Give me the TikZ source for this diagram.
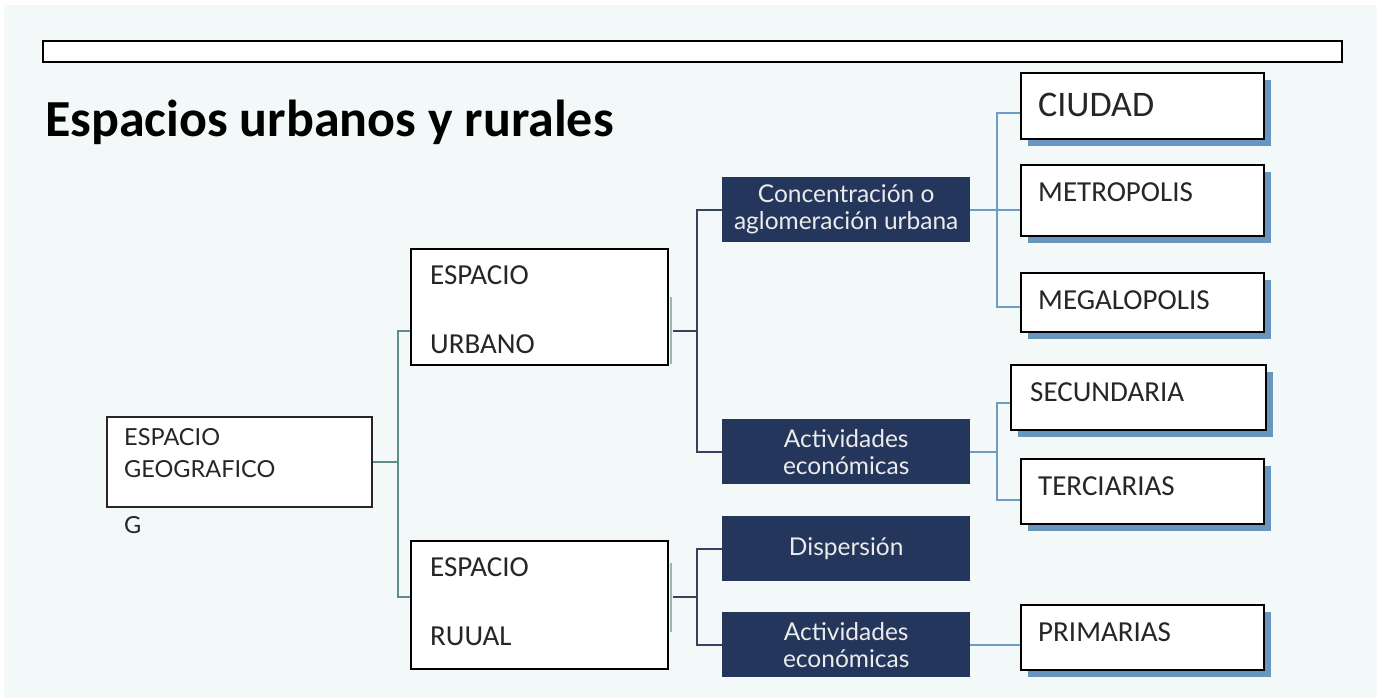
\documentclass[tikz,border=0pt]{standalone}
\usepackage{fontspec}
\setmainfont{Carlito}
\newfontfamily\gill{Lato}
\usetikzlibrary{calc,shadows}
\definecolor{bgc}{HTML}{F3F9F9}
\definecolor{navy}{HTML}{24365C}
\definecolor{shblue}{HTML}{5B8CB8}
\definecolor{cteal}{HTML}{5F8C8A}
\definecolor{cnavy}{HTML}{34435F}
\definecolor{csteel}{HTML}{6E9CC4}
\begin{document}
\begin{tikzpicture}[x=1pt,y=-1pt,
  wbox/.style={draw=black,line width=1.8pt,fill=white,inner sep=0pt,anchor=north west},
  sbox/.style={wbox,drop shadow={shadow xshift=7pt,shadow yshift=-7pt,fill=shblue,opacity=0.9}},
  dbox/.style={fill=navy,text=white!92!black,inner sep=0pt,anchor=north west,minimum width=248pt,minimum height=65pt,align=center,font=\gill\fontsize{24.5}{27}\selectfont},
  cal/.style={anchor=west,inner sep=0pt,text=black!85,font=\fontsize{29}{31}\selectfont},
  gtx/.style={anchor=west,inner sep=0pt,text=black!85,font=\gill\fontsize{23.5}{25}\selectfont},
  c1/.style={draw=cteal,line width=2pt},
  c2/.style={draw=cnavy,line width=2pt},
  c3/.style={draw=csteel,line width=2pt}]
\useasboundingbox (0,0) rectangle (1377,698);
\fill[white] (0,0) rectangle (1377,698);
\fill[bgc] (4,5) rectangle (1377,698);
% top bar
\node[wbox,minimum width=1299pt,minimum height=21pt,line width=1.6pt] (bar) at (42,40) {};
% title
\node[anchor=base west,inner sep=0pt,font=\bfseries\fontsize{52}{54}\selectfont] (title) at (45,137) {Espacios urbanos y rurales};
% level 0
\node[wbox,minimum width=265pt,minimum height=90pt,line width=1.8pt,draw=black!85] (geo) at (106,416) {};
\node[gtx] (geot1) at (124,437) {ESPACIO};
\node[gtx] (geot2) at (124,469) {GEOGRAFICO};
\node[gtx] (geog) at (124,525) {G};
% level 1
\node[wbox,minimum width=257pt,minimum height=116pt] (urb) at (410,248) {};
\node[cal] (urbt1) at (430,275) {ESPACIO};
\node[cal] (urbt2) at (430,344) {URBANO};
\node[wbox,minimum width=257pt,minimum height=128pt] (rur) at (410,540) {};
\node[cal] (rurt1) at (430,567) {ESPACIO};
\node[cal] (rurt2) at (430,636) {RUUAL};
\draw[cteal,line width=1.5pt,opacity=0.6] ([xshift=2pt,yshift=-49pt]urb.north east) -- ([xshift=2pt,yshift=2pt]urb.south east);
\draw[cteal,line width=1.5pt,opacity=0.6] ([xshift=2pt,yshift=-23pt]rur.north east) -- ([xshift=2pt,yshift=38pt]rur.south east);
% level 2
\node[dbox] (conc) at (722,177) {Concentración o\\aglomeración urbana};
\node[dbox] (act1) at (722,419) {Actividades\\económicas};
\node[dbox] (disp) at (722,516) {Dispersión};
\node[dbox] (act2) at (722,612) {Actividades\\económicas};
% level 3
\node[sbox,minimum width=243pt,minimum height=66pt] (ciudad) at (1020,72) {};
\node[cal,font=\fontsize{36}{38}\selectfont] (ciut) at (1038,105) {CIUDAD};
\node[sbox,minimum width=243pt,minimum height=71pt] (metro) at (1020,164) {};
\node[cal] (metrot) at (1038,192) {METROPOLIS};
\node[sbox,minimum width=243pt,minimum height=59pt] (mega) at (1020,272) {};
\node[cal] (megat) at (1038,300) {MEGALOPOLIS};
\node[sbox,minimum width=255pt,minimum height=65pt] (secu) at (1010,364) {};
\node[cal] (secut) at (1030,392) {SECUNDARIA};
\node[sbox,minimum width=243pt,minimum height=65pt] (terc) at (1020,458) {};
\node[cal] (terct) at (1038,486) {TERCIARIAS};
\node[sbox,minimum width=243pt,minimum height=65pt] (prim) at (1020,604) {};
\node[cal] (primt) at (1038,632) {PRIMARIAS};
% connectors level 0 -> 1
\draw[c1] (geo.east) -- ++(25,0) coordinate (j1);
\draw[c1] ($(urb.north west)!0.707!(urb.south west)$) -| (j1) |- ($(rur.north west)!0.4375!(rur.south west)$);
% level 1 -> 2
\draw[c2] ([xshift=4pt]$(urb.north east)!0.707!(urb.south east)$) -- ++(24,0) coordinate (j2);
\draw[c2] (conc.west) -| (j2) |- (act1.west);
\draw[c2] ([xshift=4pt]$(rur.north east)!0.4375!(rur.south east)$) -- ++(24,0) coordinate (j3);
\draw[c2] (disp.west) -| (j3) |- (act2.west);
% level 2 -> 3
\draw[c3] (conc.east) -- ++(27,0) coordinate (j4) -- (j4 -| metro.west);
\draw[c3] ($(ciudad.north west)!0.606!(ciudad.south west)$) -| (j4) |- ($(mega.north west)!0.576!(mega.south west)$);
\draw[c3] (act1.east) -- ++(27,0) coordinate (j5);
\draw[c3] ($(secu.north west)!0.585!(secu.south west)$) -| (j5) |- ($(terc.north west)!0.63!(terc.south west)$);
\draw[c3] (act2.east) -- (act2.east -| prim.west);
\end{tikzpicture}
\end{document}
